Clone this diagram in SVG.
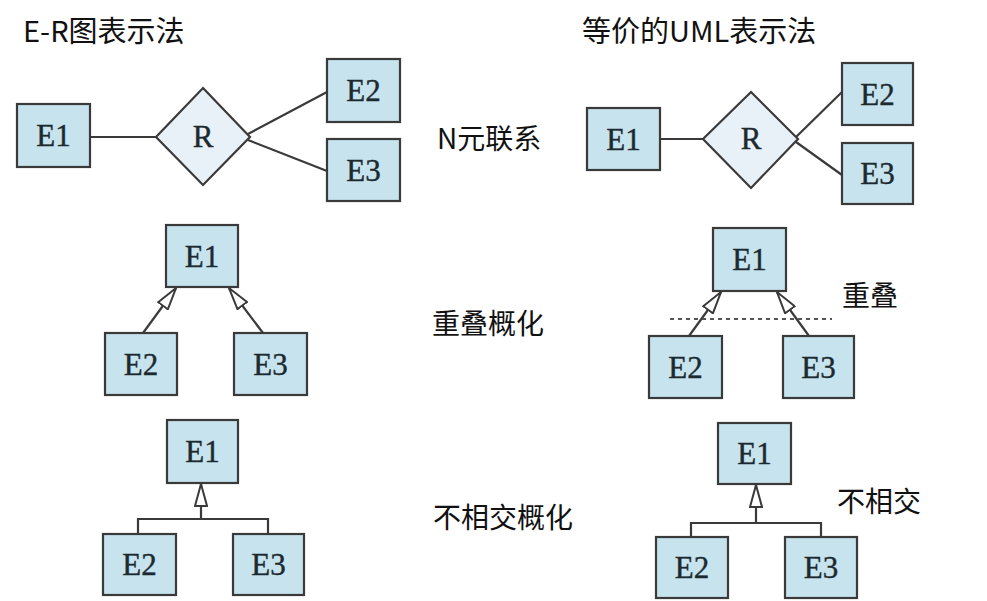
<svg xmlns="http://www.w3.org/2000/svg" width="987" height="601" viewBox="0 0 987 601">
<style>
.ent{fill:#c6e3ee;stroke:#3a3a3a;stroke-width:2.2}
.rel{fill:#e9f1f8;stroke:#3a3a3a;stroke-width:2.2}
.lbl{font-family:"Liberation Serif","DejaVu Serif",serif;font-size:31px;fill:#1c2a30;stroke:#1c2a30;stroke-width:0.4;text-anchor:middle}
.cap{font-family:"Noto Sans CJK SC","Noto Sans",sans-serif;font-size:28px;fill:#111}
.ttl{font-family:"Noto Sans CJK SC","Noto Sans",sans-serif;font-size:29px;fill:#111}
.ln{stroke:#3a3a3a;stroke-width:2.2;fill:none}
.dash{stroke:#555;stroke-width:2;stroke-dasharray:4 4;fill:none}
</style>
<defs>
<marker id="tri" markerUnits="userSpaceOnUse" viewBox="0 0 24 14" refX="23" refY="7" markerWidth="24" markerHeight="14" orient="auto">
<path d="M1,1 L23,7 L1,13 Z" fill="#fff" stroke="#3a3a3a" stroke-width="2"/>
</marker>
</defs>
<rect width="987" height="601" fill="#fff"/>
<g id="titles">
<text class="ttl" x="23" y="42">E-R图表示法</text>
<text class="ttl" x="582" y="42">等价的UML表示法</text>
<text class="cap" x="437" y="149">N元联系</text>
<text class="cap" x="432" y="334">重叠概化</text>
<text class="cap" x="433" y="528">不相交概化</text>
<text class="cap" x="842" y="306">重叠</text>
<text class="cap" x="837" y="512">不相交</text>
</g>
<g id="connectors">
<line class="ln" x1="90" y1="137" x2="156" y2="137"/>
<line class="ln" x1="248" y1="134" x2="327" y2="92"/>
<line class="ln" x1="248" y1="140" x2="327" y2="171"/>
<line class="ln" x1="660" y1="139" x2="703" y2="139"/>
<line class="ln" x1="796" y1="137" x2="842" y2="92"/>
<line class="ln" x1="796" y1="142" x2="842" y2="175"/>
<line class="ln" x1="143" y1="333" x2="176" y2="288" marker-end="url(#tri)"/>
<line class="ln" x1="263" y1="333" x2="229" y2="288" marker-end="url(#tri)"/>
<line class="ln" x1="689" y1="336" x2="721" y2="292" marker-end="url(#tri)"/>
<line class="ln" x1="809" y1="336" x2="777" y2="292" marker-end="url(#tri)"/>
<line class="dash" x1="670" y1="319" x2="832" y2="319"/>
<polyline class="ln" points="138,534 138,519 268,519 268,534"/>
<line class="ln" x1="201" y1="519" x2="201" y2="484" marker-end="url(#tri)"/>
<polyline class="ln" points="691,537 691,523 821,523 821,537"/>
<line class="ln" x1="756" y1="523" x2="756" y2="485" marker-end="url(#tri)"/>
</g>
<g id="er-n-E1"><rect class="ent" x="17" y="104" width="73" height="63"/><text class="lbl" x="53.5" y="146">E1</text></g>
<g id="er-n-R"><polygon class="rel" points="203,88 250,137 203,185 156,137"/><text class="lbl" x="203" y="147">R</text></g>
<g id="er-n-E2"><rect class="ent" x="327" y="59" width="73" height="63"/><text class="lbl" x="363.5" y="101">E2</text></g>
<g id="er-n-E3"><rect class="ent" x="327" y="139" width="73" height="62"/><text class="lbl" x="363.5" y="181">E3</text></g>
<g id="uml-n-E1"><rect class="ent" x="587" y="108" width="73" height="62"/><text class="lbl" x="623.5" y="150">E1</text></g>
<g id="uml-n-R"><polygon class="rel" points="751,92 798,139 751,188 703,139"/><text class="lbl" x="751" y="149">R</text></g>
<g id="uml-n-E2"><rect class="ent" x="842" y="63" width="71" height="62"/><text class="lbl" x="877.5" y="105">E2</text></g>
<g id="uml-n-E3"><rect class="ent" x="842" y="143" width="71" height="61"/><text class="lbl" x="877.5" y="184">E3</text></g>
<g id="er-o-E1"><rect class="ent" x="166" y="225" width="72" height="62"/><text class="lbl" x="202" y="267">E1</text></g>
<g id="er-o-E2"><rect class="ent" x="105" y="333" width="72" height="62"/><text class="lbl" x="141" y="375">E2</text></g>
<g id="er-o-E3"><rect class="ent" x="234" y="333" width="73" height="62"/><text class="lbl" x="270.5" y="375">E3</text></g>
<g id="uml-o-E1"><rect class="ent" x="713" y="228" width="73" height="63"/><text class="lbl" x="749.5" y="270">E1</text></g>
<g id="uml-o-E2"><rect class="ent" x="649" y="336" width="73" height="62"/><text class="lbl" x="685.5" y="378">E2</text></g>
<g id="uml-o-E3"><rect class="ent" x="783" y="336" width="71" height="62"/><text class="lbl" x="818.5" y="378">E3</text></g>
<g id="er-d-E1"><rect class="ent" x="167" y="420" width="71" height="63"/><text class="lbl" x="202.5" y="462">E1</text></g>
<g id="er-d-E2"><rect class="ent" x="103" y="534" width="73" height="61"/><text class="lbl" x="139.5" y="575">E2</text></g>
<g id="er-d-E3"><rect class="ent" x="233" y="534" width="71" height="61"/><text class="lbl" x="268.5" y="575">E3</text></g>
<g id="uml-d-E1"><rect class="ent" x="718" y="423" width="73" height="61"/><text class="lbl" x="754.5" y="464">E1</text></g>
<g id="uml-d-E2"><rect class="ent" x="656" y="537" width="72" height="61"/><text class="lbl" x="692" y="578">E2</text></g>
<g id="uml-d-E3"><rect class="ent" x="785" y="537" width="72" height="61"/><text class="lbl" x="821" y="578">E3</text></g>
</svg>
